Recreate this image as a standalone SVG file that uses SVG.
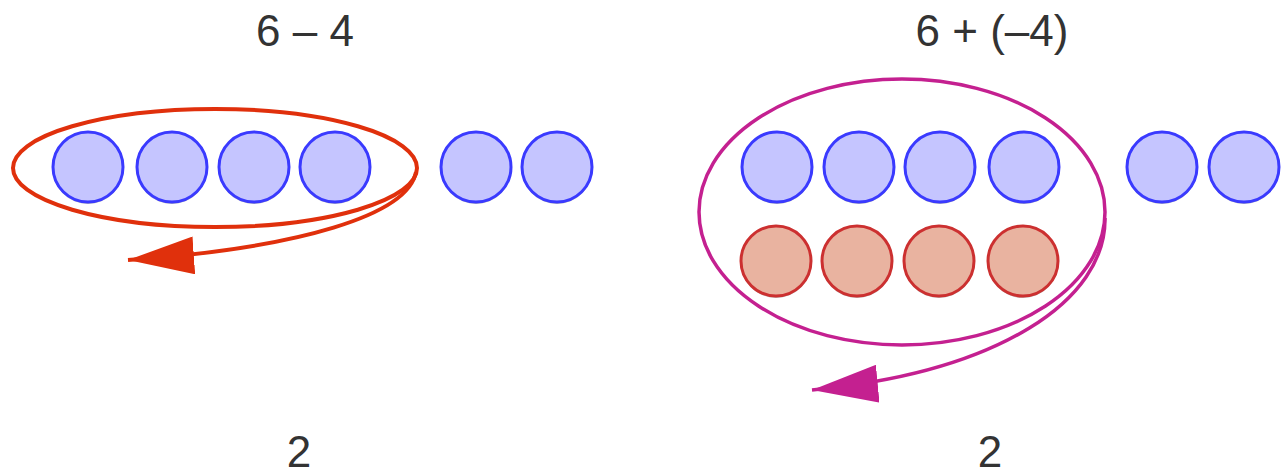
<svg xmlns="http://www.w3.org/2000/svg" width="1283" height="474" viewBox="0 0 1283 474">
<style>
  .t{font-family:"Liberation Sans","Open Sans",sans-serif;font-size:44px;fill:#333;text-anchor:middle}
  .b{fill:#c5c5ff;stroke:#3a3aff;stroke-width:3}
  .r{fill:#e9b3a0;stroke:#cc3030;stroke-width:3}
  .sh{fill:#666;opacity:0.45}
</style>
<defs>
  <marker id="ar" markerUnits="userSpaceOnUse" markerWidth="70" markerHeight="38" refX="66" refY="19" orient="auto" viewBox="0 0 70 38">
    <path d="M0 0 L66 19 L0 38 Z" fill="#e0300c"/>
  </marker>
  <marker id="am" markerUnits="userSpaceOnUse" markerWidth="70" markerHeight="38" refX="66" refY="19" orient="auto" viewBox="0 0 70 38">
    <path d="M0 0 L66 19 L0 38 Z" fill="#c42090"/>
  </marker>
</defs>
<rect width="1283" height="474" fill="#fff"/>
<g id="label-left"><text class="t" x="305" y="46">6 – 4</text></g>
<g id="label-right"><text class="t" x="992" y="46">6 + (–4)</text></g>
<g id="result-left"><text class="t" x="299" y="467">2</text></g>
<g id="result-right"><text class="t" x="990" y="467">2</text></g>
<g id="left-counters">
  <g id="lb1"><circle class="sh" cx="88" cy="169" r="35"/><circle class="b" cx="88" cy="167" r="35"/></g>
  <g id="lb2"><circle class="sh" cx="172" cy="169" r="35"/><circle class="b" cx="172" cy="167" r="35"/></g>
  <g id="lb3"><circle class="sh" cx="254" cy="169" r="35"/><circle class="b" cx="254" cy="167" r="35"/></g>
  <g id="lb4"><circle class="sh" cx="335" cy="169" r="35"/><circle class="b" cx="335" cy="167" r="35"/></g>
  <g id="lb5"><circle class="sh" cx="476" cy="169" r="35"/><circle class="b" cx="476" cy="167" r="35"/></g>
  <g id="lb6"><circle class="sh" cx="557" cy="169" r="35"/><circle class="b" cx="557" cy="167" r="35"/></g>
</g>
<g id="right-counters">
  <g id="rb1"><circle class="sh" cx="777" cy="169" r="35"/><circle class="b" cx="777" cy="167" r="35"/></g>
  <g id="rb2"><circle class="sh" cx="859" cy="169" r="35"/><circle class="b" cx="859" cy="167" r="35"/></g>
  <g id="rb3"><circle class="sh" cx="940" cy="169" r="35"/><circle class="b" cx="940" cy="167" r="35"/></g>
  <g id="rb4"><circle class="sh" cx="1024" cy="169" r="35"/><circle class="b" cx="1024" cy="167" r="35"/></g>
  <g id="rb5"><circle class="sh" cx="1162" cy="169" r="35"/><circle class="b" cx="1162" cy="167" r="35"/></g>
  <g id="rb6"><circle class="sh" cx="1244" cy="169" r="35"/><circle class="b" cx="1244" cy="167" r="35"/></g>
  <g id="rr1"><circle class="sh" cx="776" cy="263" r="35"/><circle class="r" cx="776" cy="261" r="35"/></g>
  <g id="rr2"><circle class="sh" cx="857" cy="263" r="35"/><circle class="r" cx="857" cy="261" r="35"/></g>
  <g id="rr3"><circle class="sh" cx="939" cy="263" r="35"/><circle class="r" cx="939" cy="261" r="35"/></g>
  <g id="rr4"><circle class="sh" cx="1023" cy="263" r="35"/><circle class="r" cx="1023" cy="261" r="35"/></g>
</g>
<g id="connectors" fill="none">
  <ellipse cx="215" cy="168" rx="202" ry="59" stroke="#e0300c" stroke-width="4"/>
  <path d="M416 172 C 408 215, 300 248, 128 260" stroke="#e0300c" stroke-width="4" marker-end="url(#ar)"/>
  <ellipse cx="902" cy="212" rx="203" ry="133" stroke="#c42090" stroke-width="3.5"/>
  <path d="M1105 218 C 1106 300, 1000 372, 812 390" stroke="#c42090" stroke-width="3.5" marker-end="url(#am)"/>
</g>
</svg>
